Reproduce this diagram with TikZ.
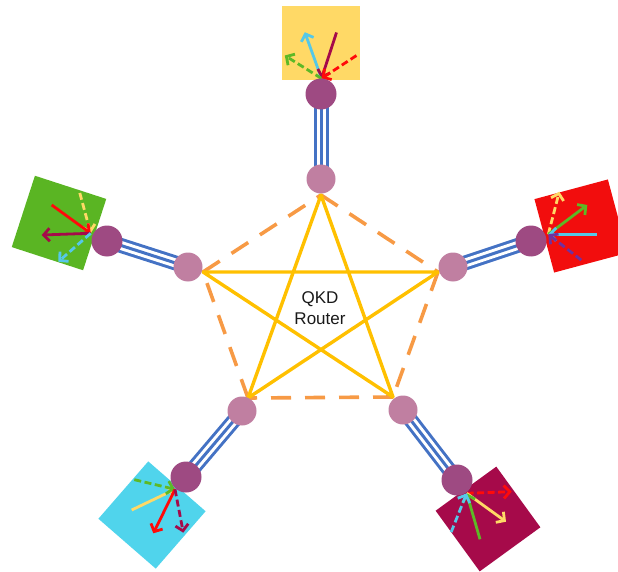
\documentclass[tikz,border=0pt]{standalone}
\usepackage{fontspec}
\setmainfont{Liberation Sans}
\usetikzlibrary{arrows.meta}

\definecolor{sqyellow}{HTML}{FFD966}
\definecolor{sqgreen}{HTML}{5AB523}
\definecolor{sqred}{HTML}{F20D0D}
\definecolor{sqcyan}{HTML}{50D4EC}
\definecolor{sqcrimson}{HTML}{A60A4A}
\definecolor{outerc}{HTML}{9E4A82}
\definecolor{innerc}{HTML}{C07FA1}
\definecolor{fiber}{HTML}{4472C4}
\definecolor{pentc}{HTML}{F79A45}
\definecolor{starc}{HTML}{FFC000}
\definecolor{acyan}{HTML}{55C8E8}
\definecolor{agreen}{HTML}{5DB926}
\definecolor{ared}{HTML}{FF0A0A}
\definecolor{acrimson}{HTML}{A50A4A}
\definecolor{apurple}{HTML}{7030A0}
\definecolor{ayellow}{HTML}{FFD966}

\begin{document}
\begin{tikzpicture}[x=1pt,y=-1pt,
  sq/.style={draw=none, inner sep=0pt, minimum size=75pt},
  outerdot/.style={circle, fill=outerc, inner sep=0pt, minimum size=31pt},
  innerdot/.style={circle, fill=innerc, inner sep=0pt, minimum size=29pt},
  triple/.style={draw=fiber, line width=15pt,
    postaction={draw=white, line width=9pt},
    postaction={draw=fiber, line width=3pt}},
  pentedge/.style={draw=pentc, line width=3.6pt, dash pattern=on 20pt off 14pt},
  staredge/.style={draw=starc, line width=3.4pt, line join=round},
  tipout/.style={line width=2.8pt, -{Straight Barb[length=6pt,width=13pt]}},
  tipin/.style={line width=2.8pt, {Straight Barb[length=6pt,width=13pt]}-},
  dsh/.style={dash pattern=on 7pt off 3.5pt}]

\useasboundingbox (0,0) rectangle (618,572);
\clip (0,0) rectangle (618,572);

% user boxes
\node[sq, fill=sqyellow, minimum width=78pt, minimum height=74pt] (s1) at (321,43) {};
\node[sq, fill=sqred, minimum size=76pt, rotate=15] (s2) at (581,226) {};
\node[sq, fill=sqcrimson, rotate=36] (s3) at (488,519) {};
\node[sq, fill=sqcyan, minimum size=76pt, rotate=-41] (s4) at (152,515) {};
\node[sq, fill=sqgreen, rotate=-18] (s5) at (59,223) {};

% arrow origins
\coordinate (c1) at (321.5,78.5);
\coordinate (c2) at (548.3,234.3);
\coordinate (c3) at (466.7,493.3);
\coordinate (c4) at (175,489.3);
\coordinate (c5) at (90.7,233.3);

% polarisation arrows
\draw[tipout, acyan] (c1) -- ++(-16.7,-46.3);
\draw[tipin, acrimson] (c1) -- ++(15,-46);
\draw[tipout, agreen, dsh] (c1) -- ++(-36.7,-23);
\draw[tipin, ared, dsh] (c1) -- ++(37.6,-24.7);

\draw[tipout, ayellow, dsh] (c2) -- ++(11,-42.6);
\draw[tipout, agreen] (c2) -- ++(39,-29.3);
\draw[tipin, acyan] (c2) -- ++(49,0);
\draw[tipin, apurple, dsh] (c2) -- ++(35,27.4);

\draw[tipout, ared, dsh] (c3) -- ++(45,-1.6);
\draw[tipout, ayellow] (c3) -- ++(39.3,28.4);
\draw[tipin, agreen] (c3) -- ++(13.3,46);
\draw[tipin, acyan, dsh] (c3) -- ++(-16.7,41.7);

\draw[tipin, ayellow] (c4) -- ++(-43.3,20.7);
\draw[tipin, agreen, dsh] (c4) -- ++(-42.3,-10);
\draw[tipout, ared] (c4) -- ++(-21.7,44);
\draw[tipout, acrimson, dsh] (c4) -- ++(8.3,43.4);

\draw[tipin, ayellow, dsh] (c5) -- ++(-11.7,-43.3);
\draw[tipin, ared] (c5) -- ++(-39,-28.3);
\draw[tipout, acrimson] (c5) -- ++(-49,1.7);
\draw[tipout, acyan, dsh] (c5) -- ++(-32.4,28.4);

% circle centres
\coordinate (p1) at (321,179);
\coordinate (p2) at (453,267);
\coordinate (p3) at (403,410);
\coordinate (p4) at (242,411);
\coordinate (p5) at (188,267);
\coordinate (q1) at (321,94);
\coordinate (q2) at (531,241);
\coordinate (q3) at (457,480);
\coordinate (q4) at (186,477);
\coordinate (q5) at (107,241);

% fibre links
\foreach \k in {1,...,5} \path[triple] (p\k) -- (q\k);

% router ports
\coordinate (v1) at (321,195);
\coordinate (v2) at (438,272);
\coordinate (v3) at (393,397);
\coordinate (v4) at (248,398);
\coordinate (v5) at (203,272);

\draw[pentedge] (v1) -- (v2);
\draw[pentedge] (v2) -- (v3);
\draw[pentedge] (v3) -- (v4);
\draw[pentedge] (v4) -- (v5);
\draw[pentedge] (v5) -- (v1);

\draw[staredge] (v1) -- (v3) -- (v5) -- (v2) -- (v4) -- cycle;

% nodes
\foreach \k in {1,...,5} {
  \node[innerdot] (i\k) at (p\k) {};
  \node[outerdot] (o\k) at (q\k) {};
}

\node[font=\fontsize{17}{21}\selectfont, align=center, text=black!90] (lbl) at (320,308) {QKD\\Router};
\end{tikzpicture}
\end{document}
